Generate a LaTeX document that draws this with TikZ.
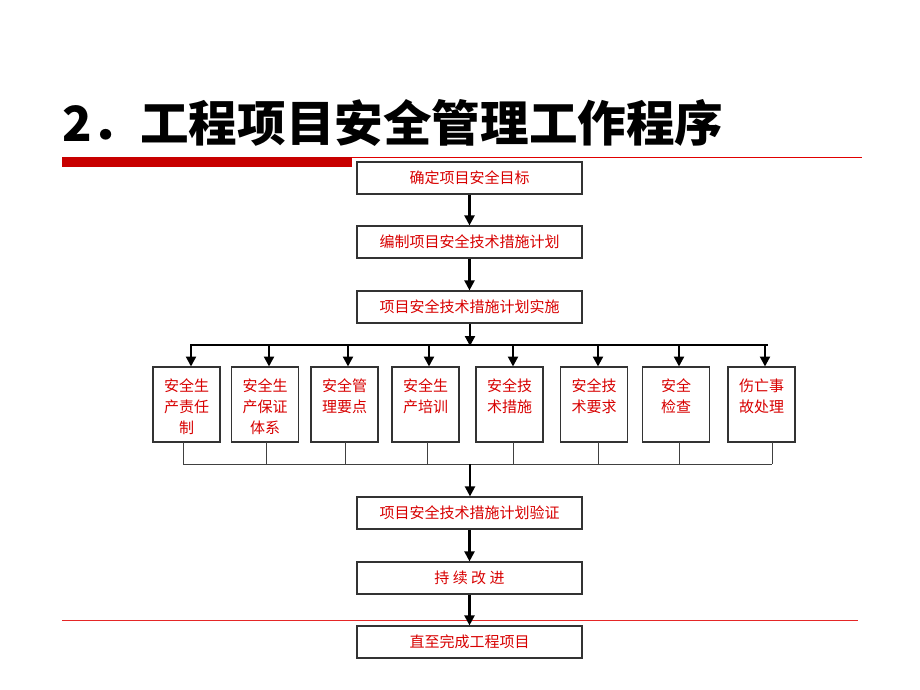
\documentclass[tikz,border=0pt]{standalone}
\usepackage{fontspec}
\setmainfont{Noto Sans CJK SC}
\usetikzlibrary{arrows.meta}
\definecolor{tred}{RGB}{215,0,0}
\definecolor{bred}{RGB}{200,0,0}
\definecolor{lred}{RGB}{225,0,0}
\tikzset{
  bigbox/.style={draw=black!80, line width=1.2pt, minimum width=225pt, minimum height=32pt, inner sep=0pt, text=tred, font=\fontsize{15}{21}\selectfont},
  sbox/.style={draw=black!80, line width=1.2pt, minimum width=67pt, minimum height=75pt, inner sep=0pt},
  stext/.style={text=tred, font=\fontsize{15}{21}\selectfont, align=center, inner sep=0pt, anchor=north},
  arr/.style={line width=2.2pt, -{Triangle[width=10pt,length=10pt]}},
  bus/.style={line width=1.3pt, black},
  lbus/.style={line width=0.9pt, black!75},
}
\begin{document}
\begin{tikzpicture}[x=1pt,y=-1pt]
\useasboundingbox (0,0) rectangle (920,690);
% title
\node[anchor=west, inner sep=0pt, font=\fontsize{48.6}{48.6}\selectfont\bfseries] (title) at (62,123) {2．工程项目安全管理工作程序};
\fill[bred] (62,157) rectangle (352,167);
\draw[lred, line width=1.3pt] (352,157.6) -- (862,157.6);
\draw[lred!85, line width=1pt] (62,620.5) -- (858,620.5);
% main boxes
\node[bigbox] (b1) at (469.5,178) {确定项目安全目标};
\node[bigbox] (b2) at (469.5,242) {编制项目安全技术措施计划};
\node[bigbox] (b3) at (469.5,307) {项目安全技术措施计划实施};
\node[bigbox] (b4) at (469.5,513) {项目安全技术措施计划验证};
\node[bigbox] (b5) at (469.5,578) {持\ 续\ 改\ 进};
\node[bigbox] (b6) at (469.5,642) {直至完成工程项目};
% small boxes
\node[sbox] (s1) at (186.5,404.5) {};
\node[sbox] (s2) at (265,404.5) {};
\node[sbox] (s3) at (344.5,404.5) {};
\node[sbox] (s4) at (425.5,404.5) {};
\node[sbox] (s5) at (509.5,404.5) {};
\node[sbox] (s6) at (594,404.5) {};
\node[sbox] (s7) at (676,404.5) {};
\node[sbox] (s8) at (761.5,404.5) {};
\node[stext] (t1) at ([yshift=-12pt]s1.north) {安全生\\产责任\\制};
\node[stext] (t2) at ([yshift=-12pt]s2.north) {安全生\\产保证\\体系};
\node[stext] (t3) at ([yshift=-12pt]s3.north) {安全管\\理要点};
\node[stext] (t4) at ([yshift=-12pt]s4.north) {安全生\\产培训};
\node[stext] (t5) at ([yshift=-12pt]s5.north) {安全技\\术措施};
\node[stext] (t6) at ([yshift=-12pt]s6.north) {安全技\\术要求};
\node[stext] (t7) at ([yshift=-12pt]s7.north) {安全\\检查};
\node[stext] (t8) at ([yshift=-12pt]s8.north) {伤亡事\\故处理};
% arrows main
\draw[arr] (b1) -- (b2);
\draw[arr] (b2) -- (b3);
\coordinate (tb) at (470,345);
\draw[arr, shorten >=-1pt] (b3.south -| tb) -- (tb);
\draw[bus] (190,345) -- (768,345);
\foreach \n/\x in {s1/191,s2/269,s3/348,s4/429,s5/513,s6/598,s7/679,s8/765}
  \draw[arr] (\x,345) -- (\x,366.5);
% bottom bus
\foreach \n/\x in {s1/183,s2/266,s3/345,s4/427,s5/513,s6/598,s7/679,s8/772}
  \draw[lbus] (\x,442) -- (\x,464);
\draw[lbus] (183,464) -- (772,464);
\coordinate (bb) at (470,464);
\draw[arr] (bb) -- (bb |- b4.north);
\draw[arr] (b4) -- (b5);
\draw[arr] (b5) -- (b6);
\end{tikzpicture}
\end{document}
